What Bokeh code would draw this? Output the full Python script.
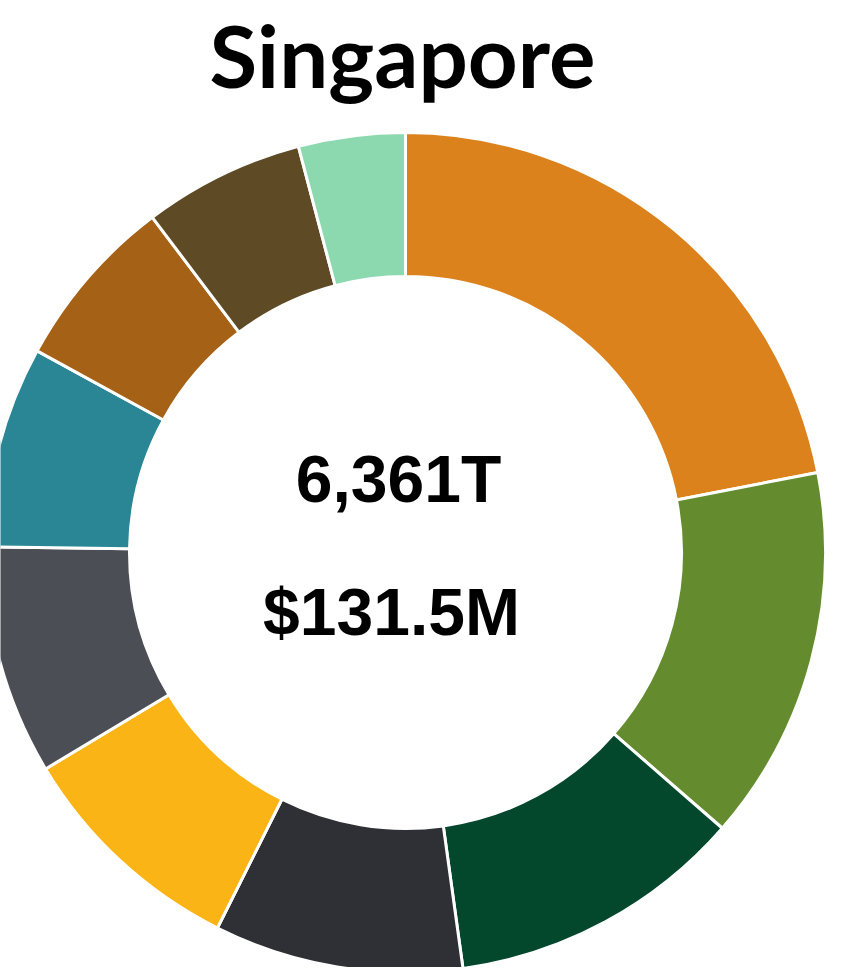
import numpy as np
from bokeh.plotting import figure
from bokeh.models import Range1d, ColumnDataSource
from bokeh.core.properties import value
from bokeh.embed import file_html
from bokeh.resources import INLINE

# ---- data ----
title_text = "Singapore"
total_volume_label = "6,361T"
total_value_label = "$131.5M"
segments = ["S1", "S2", "S3", "S4", "S5", "S6", "S7", "S8", "S9", "S10"]
volumes = [1396, 919, 726, 609, 572, 562, 493, 428, 394, 261]
colors = ["#DB821D", "#648C2E", "#03472D", "#2F3035", "#FBB416",
          "#4B4F55", "#2A8595", "#A56115", "#5F4A26", "#8CD9B0"]

# ---- geometry (1 data unit = 1 screen pixel) ----
W, H = 844, 967
cx, cy = 405, -552
r_out, r_in = 420, 276

vals = np.array(volumes, dtype=float)
frac = vals / vals.sum()
cum = np.concatenate([[0], np.cumsum(frac)])
start = np.pi / 2 - 2 * np.pi * cum[:-1]
end = np.pi / 2 - 2 * np.pi * cum[1:]

src = ColumnDataSource(dict(seg=segments, start=start, end=end, color=colors,
                            x=[cx] * len(vals), y=[cy] * len(vals)))

p = figure(width=W, height=H, output_backend="svg", toolbar_location=None,
           x_range=Range1d(0, W), y_range=Range1d(-H, 0),
           min_border=0, outline_line_color=None)
p.axis.visible = False
p.grid.visible = False
p.background_fill_color = "white"

p.annular_wedge(x="x", y="y", inner_radius=r_in, outer_radius=r_out,
                start_angle="start", end_angle="end", direction="clock",
                fill_color="color", line_color="white", line_width=3,
                source=src)

p.text(x=[402], y=[-1], text=[title_text], text_align="center",
       text_baseline="top", text_font=value("Lato"),
       text_font_style="bold", text_font_size="87px", text_color="black")

p.text(x=[398], y=[-478], text=[total_volume_label], text_align="center",
       text_baseline="middle", text_font=value("Liberation Sans"),
       text_font_style="bold", text_font_size="66px", text_color="black")
p.text(x=[391], y=[-611], text=[total_value_label], text_align="center",
       text_baseline="middle", text_font=value("Liberation Sans"),
       text_font_style="bold", text_font_size="66px", text_color="black")

open("out.html", "w").write(file_html(p, INLINE))
